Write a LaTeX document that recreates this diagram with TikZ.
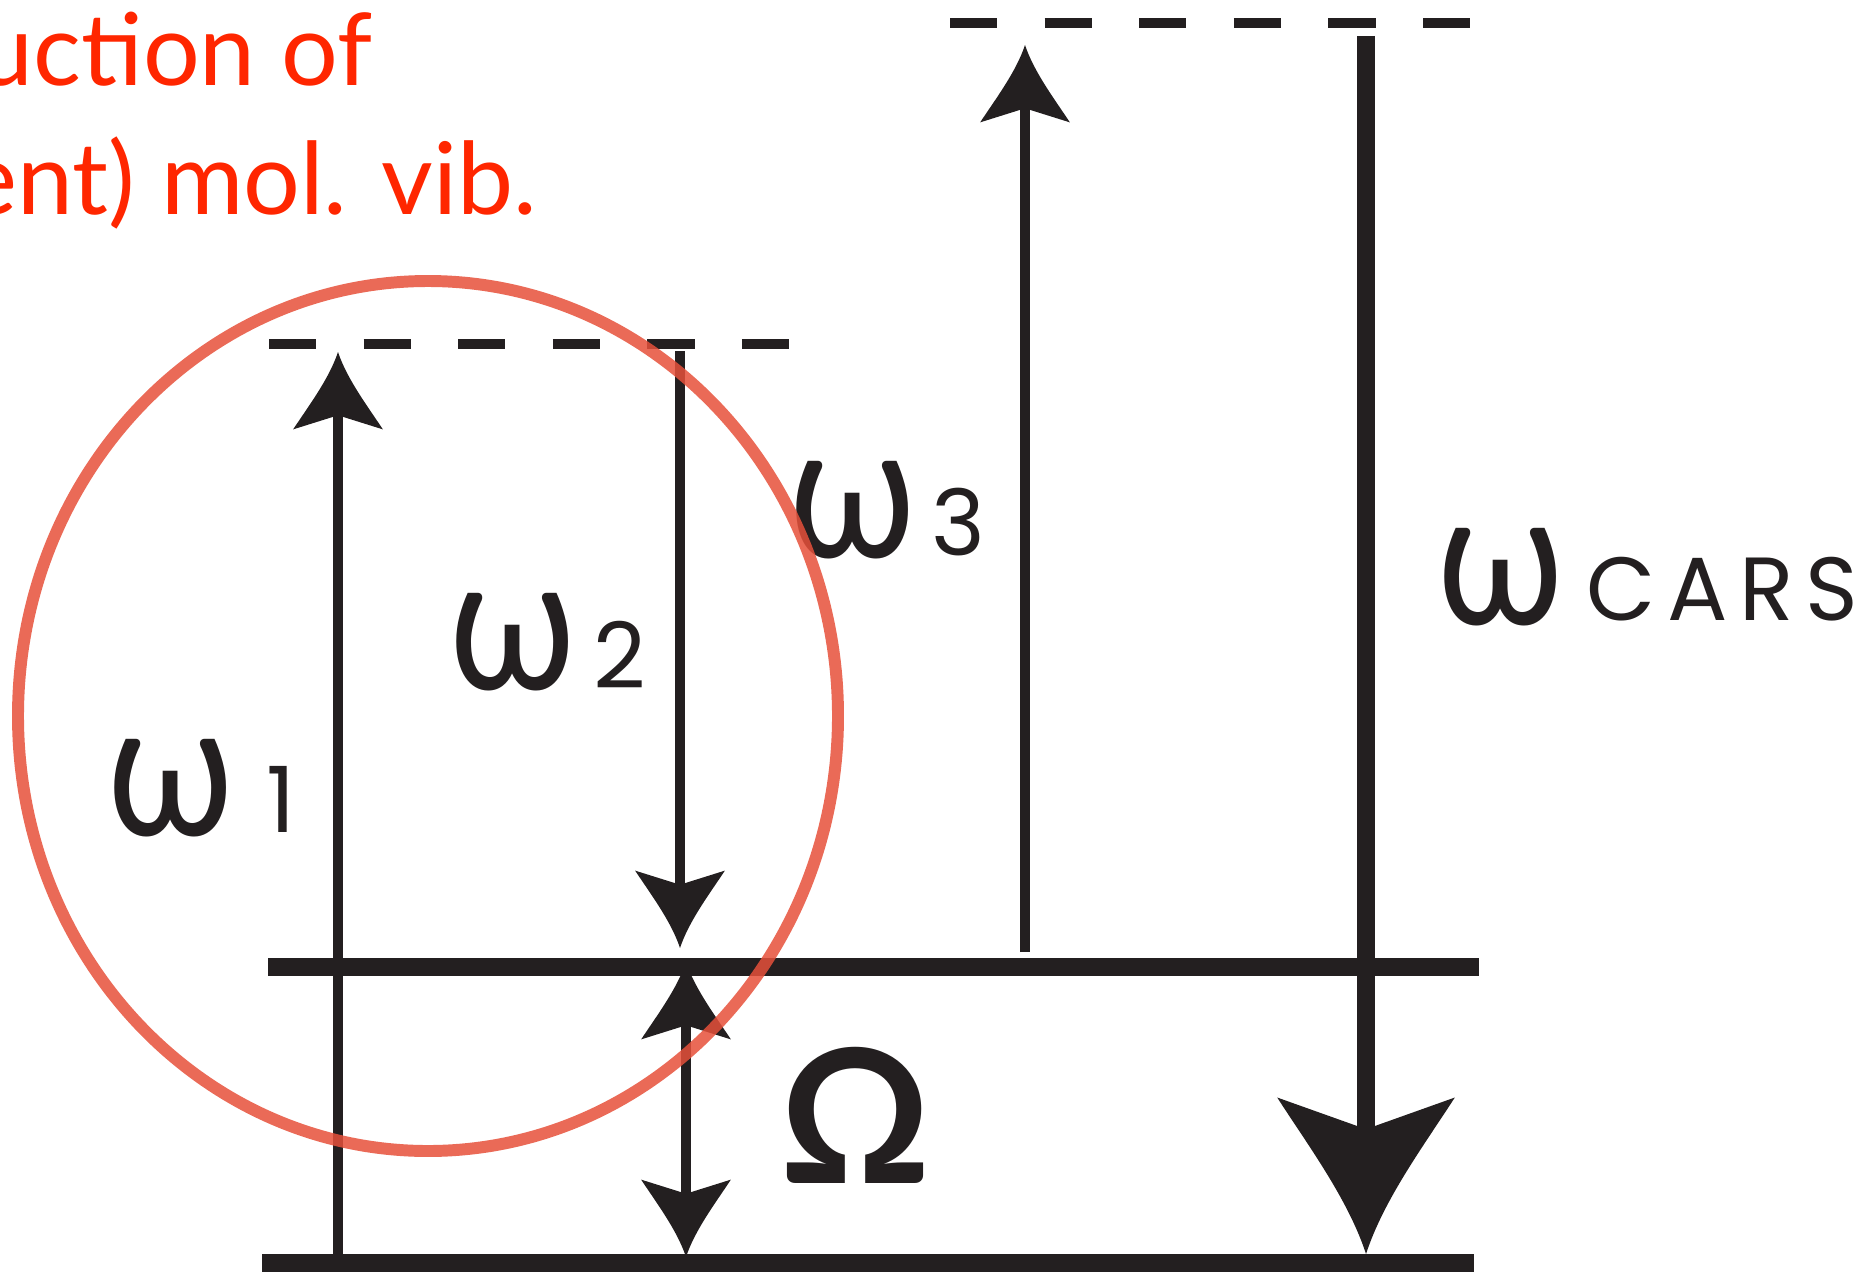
\documentclass[tikz,border=0pt]{standalone}
\usepackage[no-math]{fontspec}
\usepackage{graphicx}
\setmainfont{Lato}
\newfontfamily\subfont{Poppins}
\newfontfamily\capsfont[LetterSpace=13]{Poppins}
\newfontfamily\greekfont[FakeStretch=0.87]{Lato}
\usetikzlibrary{arrows.meta}

\definecolor{inkblack}{RGB}{35,31,32}
\definecolor{notered}{RGB}{255,38,0}
\definecolor{crayon}{RGB}{230,80,58}

% arrow head with hollow (concave) flanks
\pgfdeclarearrow{
  name=Barb,
  parameters={\the\pgfarrowlength,\the\pgfarrowwidth,\the\pgfarrowinset},
  setup code={
    \pgfarrowssettipend{\pgfarrowlength}
    \pgfarrowssetbackend{0pt}
    \pgfarrowssetlineend{\pgfarrowinset}
    \pgfarrowssavethe\pgfarrowlength
    \pgfarrowssavethe\pgfarrowwidth
    \pgfarrowssavethe\pgfarrowinset
  },
  drawing code={
    \pgfpathmoveto{\pgfqpoint{\pgfarrowlength}{0pt}}
    \pgfpathcurveto{\pgfqpoint{0.65\pgfarrowlength}{0.1\pgfarrowwidth}}{\pgfqpoint{0.3\pgfarrowlength}{0.33\pgfarrowwidth}}{\pgfqpoint{0pt}{0.5\pgfarrowwidth}}
    \pgfpathlineto{\pgfqpoint{\pgfarrowinset}{0pt}}
    \pgfpathlineto{\pgfqpoint{0pt}{-0.5\pgfarrowwidth}}
    \pgfpathcurveto{\pgfqpoint{0.3\pgfarrowlength}{-0.33\pgfarrowwidth}}{\pgfqpoint{0.65\pgfarrowlength}{-0.1\pgfarrowwidth}}{\pgfqpoint{\pgfarrowlength}{0pt}}
    \pgfpathclose
    \pgfusepathqfill
  },
  defaults={length=22pt,width=25pt,inset=4pt}
}

\begin{document}
\begin{tikzpicture}[x=0.01cm,y=-0.01cm,
    level/.style={draw=inkblack,line width=5.3pt},
    virtual/.style={draw=inkblack,line width=2.6pt,dash pattern=on 13.4pt off 13.5pt},
    beam/.style={draw=inkblack,line width=2.7pt,-{Barb[length=22pt,width=25.5pt,inset=4pt]}},
    pair/.style={draw=inkblack,line width=2.7pt,{Barb[length=22pt,width=25.5pt,inset=4pt]}-{Barb[length=22pt,width=25.5pt,inset=4pt]}},
    signal/.style={draw=inkblack,line width=5.3pt,-{Barb[length=44.5pt,width=50.5pt,inset=9pt]}},
    omega/.style={inner sep=0pt,anchor=base,text=inkblack,font=\greekfont\fontsize{54}{54}\selectfont},
    index/.style={inner sep=0pt,anchor=base,text=inkblack,font=\subfont\fontsize{26}{26}\selectfont},
    note/.style={inner sep=0pt,anchor=base east,text=notered,font=\fontsize{28.5}{28.5}\selectfont}]
    \useasboundingbox (0,0) rectangle (1870,1273);
    \clip (0,0) rectangle (1870,1273);

    % energy levels
    \coordinate (ground-l) at (262,1263);
    \coordinate (ground-r) at (1474,1263);
    \coordinate (vib-l) at (268,967);
    \coordinate (vib-r) at (1479,967);
    \coordinate (virt1-l) at (269,344);
    \coordinate (virt1-r) at (789,344);
    \coordinate (virt2-l) at (950,23);
    \coordinate (virt2-r) at (1470,23);
    \draw[level] (ground-l) -- (ground-r);
    \draw[level] (vib-l) -- (vib-r);
    \draw[virtual] (virt1-l) -- (virt1-r);
    \draw[virtual] (virt2-l) -- (virt2-r);

    % transitions
    \coordinate (w1-from) at (338,1263);
    \coordinate (w1-to) at (338,352);
    \coordinate (w2-from) at (680,351);
    \coordinate (w2-to) at (680,948);
    \coordinate (vib-top) at (686,962);
    \coordinate (vib-bot) at (686,1257);
    \coordinate (w3-from) at (1025,952);
    \coordinate (w3-to) at (1025,45);
    \coordinate (cars-from) at (1366,36);
    \coordinate (cars-to) at (1366,1254);
    \draw[beam] (w1-from) -- (w1-to);
    \draw[beam] (w2-from) -- (w2-to);
    \draw[pair] (vib-top) -- (vib-bot);
    \draw[beam] (w3-from) -- (w3-to);
    \draw[signal] (cars-from) -- (cars-to);

    % labels
    \node[omega] (w1-sym) at (171,835) {ω};
    \node[index] (w1-sub) at (281,832) {1};
    \node[omega] (w2-sym) at (513,689) {ω};
    \node[index] (w2-sub) at (620,688) {2};
    \node[omega] (w3-sym) at (853,557) {ω};
    \node[index] (w3-sub) at (958,555) {3};
    \node[omega] (cars-sym) at (1501,624) {ω};
    \node[index,font=\capsfont\fontsize{25.5}{25.5}\selectfont] (cars-sub) at (1722,620) {CARS};
    \node[inner sep=0pt,anchor=base,text=inkblack,font=\bfseries\fontsize{53}{53}\selectfont] (vib-label) at (855,1183) {Ω};

    % red annotation
    \node[note] (note-top) at (373,86) {uction of};
    \node[note] (note-bot) at (538,215) {ent) mol. vib.};
    \draw[crayon,line width=3.4pt,opacity=0.85] (428,716) ellipse [x radius=410,y radius=435];
\end{tikzpicture}
\end{document}
